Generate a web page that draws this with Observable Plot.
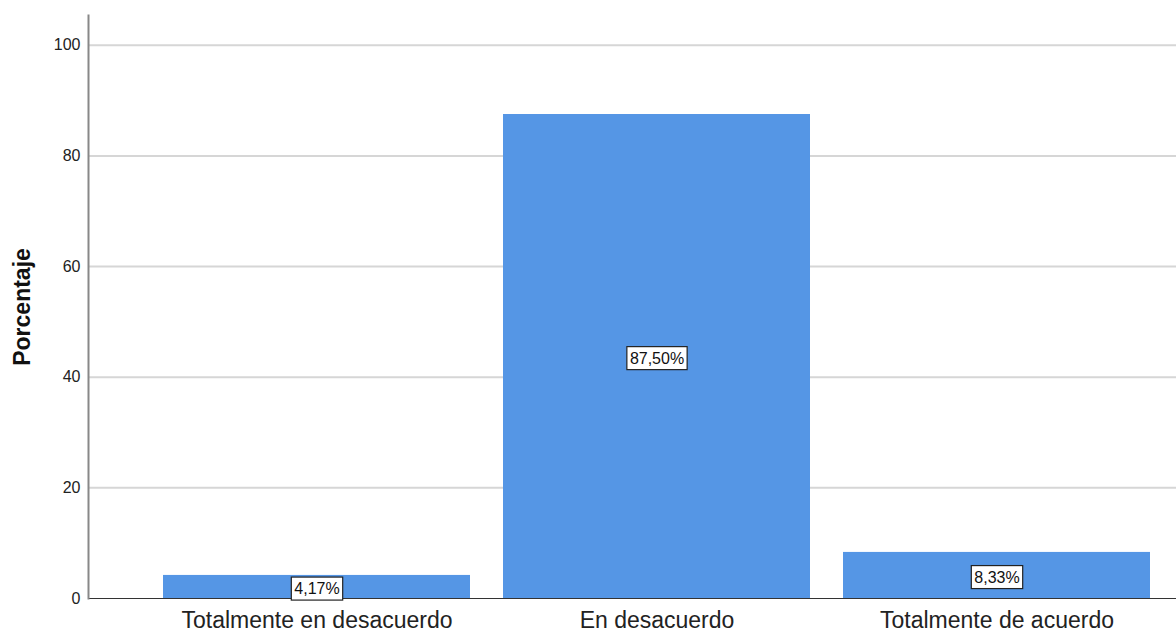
<!DOCTYPE html>
<html>
<head>
<meta charset="utf-8">
<script src="https://cdn.jsdelivr.net/npm/d3@7"></script>
<script src="https://cdn.jsdelivr.net/npm/@observablehq/plot@0.6"></script>
<style>
  html, body { margin: 0; padding: 0; background: #fff; }
  #chart svg { display: block; }
</style>
</head>
<body>
<div id="chart"></div>
<script>
const categories = ["Totalmente en desacuerdo", "En desacuerdo", "Totalmente de acuerdo"];
const values = [4.17, 87.50, 8.33];
const valueLabels = ["4,17%", "87,50%", "8,33%"];
const yTicks = [0, 20, 40, 60, 80, 100];
const yLabel = "Porcentaje";

const data = categories.map((c, i) => ({cat: c, v: values[i], label: valueLabels[i]}));

const chart = Plot.plot({
  width: 1176,
  height: 633,
  marginLeft: 88,
  marginRight: 0,
  marginTop: 15,
  marginBottom: 35,
  style: {fontFamily: "'Liberation Sans', Arial, sans-serif", background: "#fff"},
  x: {domain: categories, range: [145.25, 1166.75], paddingInner: 0.098, paddingOuter: 0.049},
  y: {domain: [0, 105.4]},
  marks: [
    Plot.ruleY(yTicks.filter(t => t > 0), {stroke: "#d6d6d6", strokeWidth: 2, strokeOpacity: 1}),
    Plot.barY(data, {x: "cat", y: "v", fill: "#5596e5"}),
    Plot.ruleY([0], {stroke: "#333", strokeWidth: 1}),
    Plot.frame({anchor: "left", stroke: "#888", strokeWidth: 2}),
    Plot.axisY({ticks: yTicks, tickSize: 0, tickPadding: 8, fontSize: 16, color: "#222",
      label: yLabel, labelAnchor: "center", labelOffset: 75, labelArrow: "none"}),
    Plot.axisX({tickSize: 0, tickPadding: 13, fontSize: 23, color: "#222", label: null}),
    Plot.text(data, {x: "cat", y: d => d.v / 2, dy: 2, text: "label", fontSize: 16, fill: "#111", className: "vlabel"})
  ]
});

document.getElementById("chart").appendChild(chart);

// style y-axis label bold
d3.select(chart).selectAll("g[aria-label='y-axis label'] text")
  .attr("font-weight", "bold").attr("font-size", 23).attr("fill", "#111");

// boxes behind value labels
d3.select(chart).selectAll("g.vlabel text").each(function() {
  const bb = this.getBBox();
  d3.select(this.parentNode).insert("rect", () => this)
    .attr("transform", this.getAttribute("transform"))
    .attr("x", bb.x - 3).attr("y", bb.y - 3)
    .attr("width", bb.width + 6).attr("height", bb.height + 6)
    .attr("fill", "#fff").attr("stroke", "#222").attr("stroke-width", 1.2);
});
</script>
</body>
</html>
